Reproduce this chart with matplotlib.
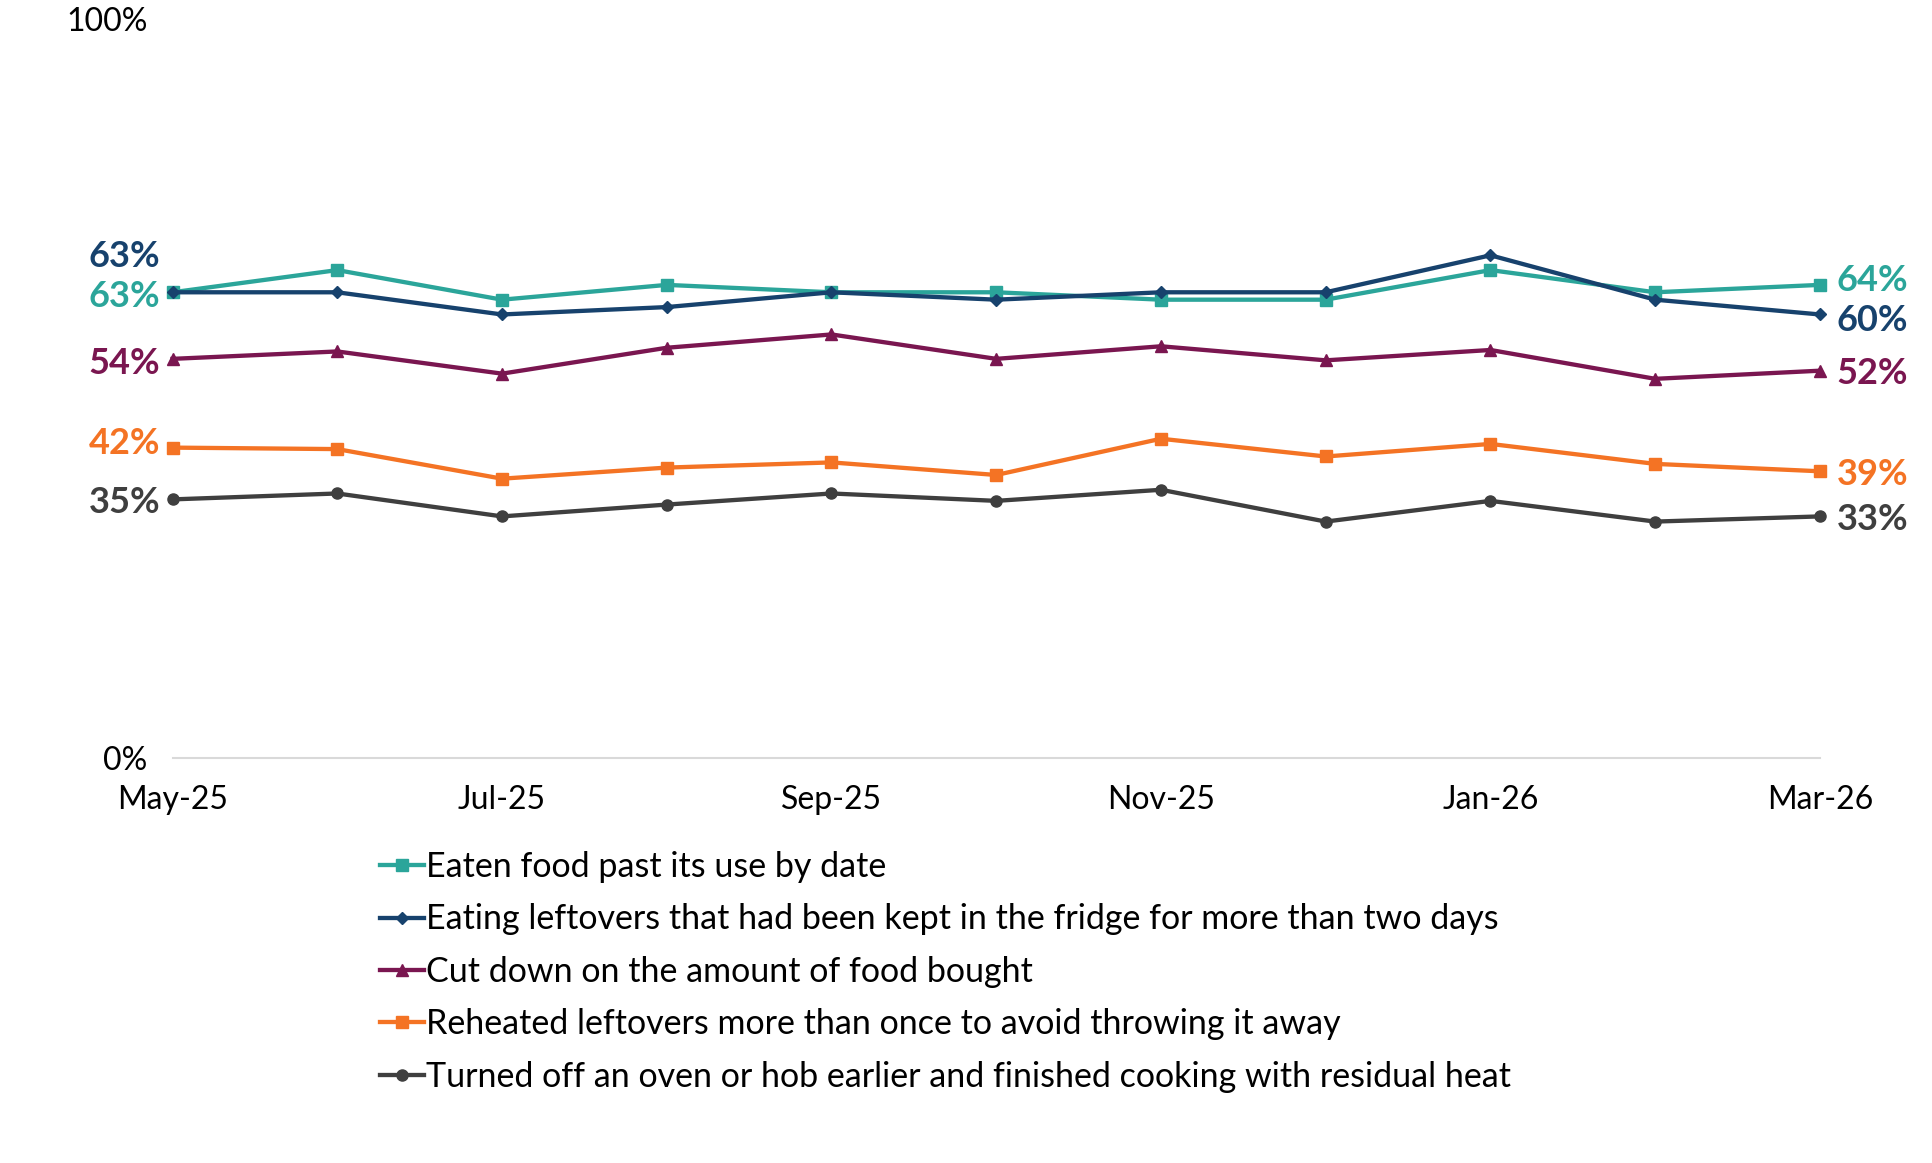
import matplotlib
matplotlib.use("Agg")
import matplotlib.pyplot as plt

plt.rcParams['font.family'] = ['Lato', 'DejaVu Sans']

months = ['May-25', 'Jun-25', 'Jul-25', 'Aug-25', 'Sep-25', 'Oct-25',
          'Nov-25', 'Dec-25', 'Jan-26', 'Feb-26', 'Mar-26']

eaten_past_date = [63, 66, 62, 64, 63, 63, 62, 62, 66, 63, 64]
leftovers_fridge = [63, 63, 60, 61, 63, 62, 63, 63, 68, 62, 60]
cut_down_food = [54, 55, 52, 55.5, 57.3, 54, 55.7, 53.8, 55.2, 51.3, 52.4]
reheated_leftovers = [42, 41.8, 37.8, 39.3, 40, 38.3, 43.2, 40.8, 42.5, 39.8, 38.8]
residual_heat = [35, 35.8, 32.7, 34.3, 35.8, 34.8, 36.3, 32, 34.8, 32, 32.7]

labels = ['Eaten food past its use by date',
          'Eating leftovers that had been kept in the fridge for more than two days',
          'Cut down on the amount of food bought',
          'Reheated leftovers more than once to avoid throwing it away',
          'Turned off an oven or hob earlier and finished cooking with residual heat']
start_labels = ['63%', '63%', '54%', '42%', '35%']
end_labels = ['64%', '60%', '52%', '39%', '33%']

series = [eaten_past_date, leftovers_fridge, cut_down_food, reheated_leftovers, residual_heat]
colors = ['#2ba59a', '#17426d', '#7a1650', '#f47324', '#3f3f3f']
markers = ['s', 'D', '^', 's', 'o']
msizes = [8, 6.5, 8, 8, 8]
# label offsets in points (left, right)
left_dy = [-3, 26, -3, 3, -2]
right_dy = [3, -4, -2, -2, -2]

fig = plt.figure(figsize=(19.32, 11.63), dpi=100)
ax = fig.add_axes([0.0893, 0.348, 0.8527, 0.636])

x = list(range(len(months)))
for i, ys in enumerate(series):
    ax.plot(x, ys, color=colors[i], marker=markers[i], markersize=msizes[i],
            linewidth=3.1, label=labels[i], clip_on=False, zorder=3)
    ax.annotate(start_labels[i], (x[0], ys[0]), xytext=(-9, left_dy[i]),
                textcoords='offset points', ha='right', va='center',
                fontsize=26, fontweight='bold', color=colors[i])
    ax.annotate(end_labels[i], (x[-1], ys[-1]), xytext=(12, right_dy[i]),
                textcoords='offset points', ha='left', va='center',
                fontsize=26, fontweight='bold', color=colors[i])

ax.set_xlim(0, 10)
ax.set_ylim(0, 100)
ax.set_yticks([0, 100])
ax.set_yticklabels(['0%', '100%'])
ax.set_xticks(x[::2])
ax.set_xticklabels(months[::2])
ax.tick_params(axis='both', length=0, labelsize=23)
ax.tick_params(axis='x', pad=19)
ax.tick_params(axis='y', pad=18)
for s in ['top', 'right', 'left']:
    ax.spines[s].set_visible(False)
ax.spines['bottom'].set_color('#d9d9d9')
ax.spines['bottom'].set_linewidth(1.5)

ax.legend(loc='upper left', bbox_to_anchor=(0.1175, -0.107), frameon=False,
          fontsize=24.5, handlelength=1.3, handletextpad=0.05, labelspacing=0.6,
          borderaxespad=0)

fig.savefig('out.png', dpi=100)
